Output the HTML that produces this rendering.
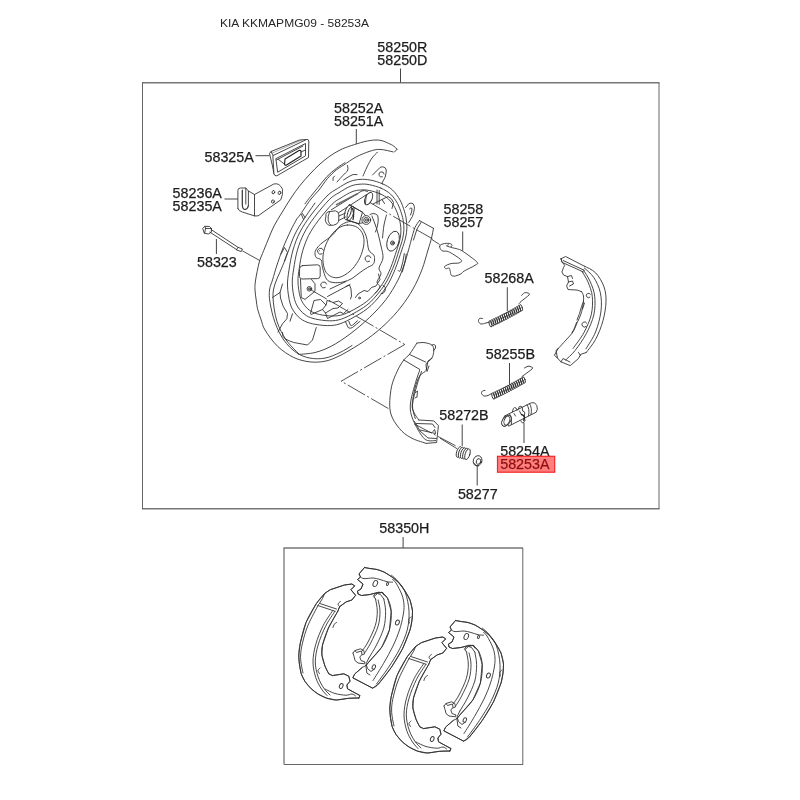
<!DOCTYPE html>
<html><head><meta charset="utf-8">
<style>
html,body{margin:0;padding:0;background:#fff;}
body{width:800px;height:800px;overflow:hidden;position:relative;font-family:"Liberation Sans",sans-serif;}
svg{position:absolute;left:0;top:0;will-change:transform;}
.t{font-family:"Liberation Sans",sans-serif;font-size:14.3px;fill:#1c1c1c;stroke:#1c1c1c;stroke-width:0.25px;}
.title{font-family:"Liberation Sans",sans-serif;font-size:11.8px;fill:#262626;}
.l{stroke:#444;stroke-width:1;fill:none;}
.bh{stroke:#777;stroke-width:1.5;fill:none;}
.bv{stroke:#555;stroke-width:0.9;fill:none;}
.p{stroke:#333;stroke-width:0.9;fill:none;stroke-linecap:round;stroke-linejoin:round;}
.pf{stroke:#333;stroke-width:0.9;fill:#fff;stroke-linecap:round;stroke-linejoin:round;}
.d{stroke:#333;stroke-width:0.85;fill:none;stroke-dasharray:20 2.5 2 2.5;}
</style></head><body>
<svg width="800" height="800" viewBox="0 0 800 800">
<rect width="800" height="800" fill="#fff"/>
<text class="title" x="220" y="27.3" textLength="149" lengthAdjust="spacingAndGlyphs">KIA KKMAPMG09 - 58253A</text>
<g id="boxes">
<path class="bh" d="M142 82.8H659.5M142 508.8H659.5M283.5 548H523"/>
<path class="bv" d="M142.5 82.8V508.8M659 82.8V508.8M522.8 548V764.5M284 764.5H523"/>
<path class="bh" d="M284 548V764.5" style="stroke-width:1.3"/>
<path class="l" d="M400.5 68.5V82.5M403.1 537V548"/>
</g>
<g id="parts">
<path class="p" d="M397 149.2C396.5 148.7 395.2 147.2 394 146.3C392.8 145.4 392 144.9 390 144C388 143.1 384.5 141.4 382 140.7C379.5 140 377.8 139.9 375 140C372.2 140.1 368.1 140.8 365 141.5C361.9 142.2 358.8 143.2 356.3 144C353.8 144.8 352.7 145 350 146C347.3 147 343.3 148.3 340 150C336.7 151.7 333.3 153.7 330 156C326.7 158.3 323.3 161 320 164C316.7 167 313.3 170.4 310 174C306.7 177.6 303.2 181.5 300 185.5C296.8 189.5 294 193.5 291 198C288 202.5 284.8 207.8 282 212.5C279.2 217.2 276.3 221.4 274 226C271.7 230.6 269.9 235.4 268 240C266.1 244.6 264 249.7 262.5 253.5C261 257.3 260.1 258.6 259 263C257.9 267.4 256.3 275.5 255.6 280C254.9 284.5 254.9 286.7 255 290C255.1 293.3 255.8 296.9 256.2 300C256.7 303.1 256.7 305.4 257.5 308.8C258.3 312.1 260 316.5 261.2 320C262.5 323.5 262.3 325.6 265 330C267.7 334.4 272.7 341.7 277.5 346.2C282.3 350.8 288.3 354.9 293.8 357.5C299.2 360.1 304.8 361.3 310 361.9C315.2 362.5 320.5 362.1 325 361.2C329.5 360.4 332.8 358.9 337 357C341.2 355.1 344.8 353.1 350 350C355.2 346.9 362 342.9 368 338.5C374 334.1 380.5 328.8 386 323.5C391.5 318.2 396.5 312.8 401 307C405.5 301.2 409.5 295.2 413 289C416.5 282.8 419.5 276 422 269.5C424.5 263 426.4 255.2 428 250C429.6 244.8 430.6 241.6 431.5 238C432.4 234.4 433.2 229.9 433.5 228.3"/>
<path class="p" d="M397 149.2L394.5 152"/>
<path class="p" d="M393.1 151.9C390.9 151.5 383.9 149.5 380 149.4C376.1 149.3 374 150 370 151.2C366 152.5 360.6 154.6 356.2 156.9C351.9 159.2 347.1 162.8 343.8 165C340.4 167.2 339 167.8 336.2 170C333.5 172.2 330.4 175.2 327.5 178.5C324.6 181.8 321.8 186.6 319 190C316.2 193.4 313.5 195.8 311 199C308.5 202.2 305.8 206.3 304 209C302.2 211.7 301.3 213.2 300 215C298.7 216.8 297.8 217.3 296.2 220C294.7 222.7 292.7 226.3 290.5 231C288.3 235.7 285.2 242.3 283 248C280.8 253.7 278.8 259.7 277 265C275.2 270.3 273.8 275.8 272.5 280C271.2 284.2 269.9 286.2 269.5 290C269.1 293.8 269.1 297.1 270 302.5C270.9 307.9 272.7 316.2 275 322.5C277.3 328.8 280.2 335 283.8 340C287.3 345 291.9 349.5 296.2 352.5C300.6 355.5 305.2 357.2 310 358.1C314.8 359 320 359 325 358.1C330 357.2 335.5 354.6 340 352.5C344.5 350.4 350 346.7 352 345.5"/>
<path class="p" d="M315 203C313.2 205.7 307.3 213.8 304 219C300.7 224.2 297.7 228.5 295 234C292.3 239.5 289.7 247.7 288 252C286.3 256.3 286.3 256.7 285 260C283.7 263.3 281.7 268 280 272C278.3 276 276.2 279.8 275 284C273.8 288.2 272.7 291.3 273 297.5C273.3 303.7 274.7 314.2 276.9 321.2C279.1 328.3 282.6 334.6 286.2 340C289.9 345.4 296.7 351.5 298.8 353.8"/>
<path class="p" d="M345 162.6C343.6 163.6 339.5 166 336.5 168.3C333.5 170.6 330.1 173.3 327 176.5C323.9 179.7 320.7 184.2 318 187.5C315.3 190.8 312.8 193.8 310.6 196.5C308.4 199.2 305.9 202.5 305 203.8"/>
<path class="p" d="M298.8 354.4C301.5 354.1 309.6 353.9 315 352.5C320.4 351.1 325.4 349.3 331.2 346.2C337.1 343.2 343.6 338.8 350 334C356.4 329.2 363.5 323.2 369.5 317.5C375.5 311.8 381.2 305.8 386 299.5C390.8 293.2 395 285.8 398 280C401 274.2 402.2 270 404 265C405.8 260 407.3 254.2 408.5 250C409.7 245.8 410.2 243.8 411.2 240C412.3 236.2 413.6 230.7 415 227.5C416.4 224.3 418.7 221.8 419.4 220.6"/>
<path class="p" d="M419.4 220.6L433.5 228.3"/>
<path class="p" d="M421 222.5L417 229L413.5 240"/>
<path class="p" d="M377.5 152.2C376.6 153.2 373.8 155.5 372 158C370.2 160.5 368.5 164 367 167C365.5 170 363.7 174.5 363 176"/>
<path class="pf" d="M382.5 183.8C378.8 182.1 373.8 180.7 370 180C366.2 179.3 363.3 179.2 360 179.4C356.7 179.7 353.8 180 350 181.5C346.2 183 341.3 186.1 337.5 188.5C333.7 190.9 331.4 191.6 327 196C322.6 200.4 315.5 209 311 215C306.5 221 303 226.2 300 232C297 237.8 294.8 243.7 293 250C291.2 256.3 289.9 264 289 270C288.1 276 287.3 280.5 287.5 286C287.7 291.5 288.8 298.5 290 303C291.2 307.5 292.9 310.2 295 313C297.1 315.8 299.6 318.2 302.5 320C305.4 321.8 308.3 322.8 312.5 323.8C316.7 324.7 322.9 325.6 327.5 325.6C332.1 325.6 335.2 325.4 340 323.8C344.8 322.1 350.8 319 356 316C361.2 313 366 310.2 371 305.5C376 300.8 382 293.5 386 287.5C390 281.5 392.4 275.8 395 269.5C397.6 263.2 400 255.2 401.8 250C403.5 244.8 404.6 241.7 405.5 238C406.4 234.3 406.8 231.2 406.9 228C407 224.8 406.7 221.8 406.2 219C405.8 216.2 405.4 214.4 404.4 211.2C403.4 208.1 402 203.5 400 200C398 196.5 395.4 192.7 392.5 190C389.6 187.3 386.2 185.4 382.5 183.8Z"/>
<path class="p" d="M381.1 188.2C377.6 186.7 372.9 185.4 369.4 184.7C365.9 184 363.2 183.9 360.1 184.2C357 184.4 354.2 184.7 350.7 186.1C347.2 187.5 342.6 190.4 339 192.7C335.4 194.9 333.3 195.5 329.2 199.7C325.1 203.8 318.5 211.8 314.3 217.4C310 223 306.8 227.9 304 233.3C301.2 238.8 299.1 244.2 297.4 250.2C295.7 256.1 294.5 263.3 293.7 268.9C292.8 274.5 292.1 278.7 292.3 283.8C292.4 289 293.5 295.5 294.6 299.7C295.8 303.9 297.3 306.4 299.3 309.1C301.2 311.7 303.6 313.9 306.3 315.6C309 317.3 311.8 318.2 315.7 319.1C319.6 320 325.4 320.8 329.7 320.8C334 320.8 336.9 320.6 341.4 319.1C345.8 317.6 351.5 314.7 356.3 311.9C361.2 309 365.7 306.5 370.4 302.1C375 297.6 380.6 290.8 384.4 285.2C388.1 279.6 390.3 274.2 392.8 268.4C395.3 262.6 397.5 255.1 399.1 250.2C400.7 245.3 401.8 242.4 402.6 238.9C403.4 235.5 403.8 232.6 403.9 229.6C404 226.6 403.7 223.8 403.3 221.2C402.9 218.6 402.6 216.9 401.6 213.9C400.6 211 399.3 206.7 397.5 203.4C395.6 200.1 393.2 196.6 390.5 194.1C387.7 191.5 384.6 189.8 381.1 188.2Z"/>
<path class="p" d="M379.9 193.7C376.7 192.3 372.4 191.1 369.1 190.5C365.9 189.8 363.4 189.7 360.5 190C357.6 190.2 355.1 190.5 351.9 191.8C348.6 193.1 344.4 195.7 341.1 197.8C337.8 199.9 335.8 200.5 332 204.3C328.2 208.1 322.1 215.5 318.2 220.7C314.4 225.8 311.3 230.3 308.7 235.3C306.2 240.3 304.3 245.4 302.7 250.8C301.1 256.3 300 262.9 299.3 268.1C298.5 273.3 297.8 277.2 298 281.9C298.1 286.6 299 292.7 300.1 296.6C301.2 300.4 302.6 302.7 304.4 305.2C306.2 307.6 308.4 309.7 310.9 311.2C313.4 312.8 315.9 313.6 319.5 314.5C323.1 315.3 328.5 316 332.5 316C336.4 316 339.1 315.8 343.2 314.5C347.3 313.1 352.6 310.4 357 307.8C361.5 305.1 365.7 302.8 370 298.7C374.3 294.6 379.5 288.4 382.9 283.2C386.4 278 388.4 273.1 390.7 267.7C392.9 262.3 395 255.4 396.5 250.8C398 246.3 399 243.7 399.7 240.5C400.5 237.3 400.8 234.6 400.9 231.9C401.1 229.1 400.7 226.5 400.4 224.1C400 221.7 399.7 220.2 398.8 217.4C397.9 214.7 396.7 210.8 395 207.7C393.3 204.7 391 201.4 388.5 199.1C386 196.8 383.1 195.1 379.9 193.7Z"/>
<path class="pf" d="M372.5 175L379.4 168.1Q381 166.3 383.1 166.9Q386 167.5 386.25 170Q386.3 174 385 177.5L381.9 183.1"/>
<path class="p" d="M382.4 176.9A2.6 2.6 0 1 1 384.1 174"/>
<path class="pf" d="M405.6 207.5L408.75 203.75Q411 202.3 413.1 203.75Q414.8 206 414.4 208.75Q413.8 212.5 412.5 216.25L408.75 222.5"/>
<path class="p" d="M409.5 209Q411 207 412 208.5Q412 212 410.5 215"/>
<path class="p" d="M333 180.5Q332 177.5 334.5 176M337 182Q344 174 347.5 171Q348.5 168.5 347.5 165.5M343.5 180L349 176.5Q353 173.5 357 174.5"/>
<path class="p" d="M347.5 225C350.8 224.8 354.9 225.8 357.5 227.5C360.1 229.2 362.1 232.1 363.1 235C364.1 237.9 364.3 241.2 363.8 245C363.2 248.8 361.9 253.5 360 257.5C358.1 261.5 355.4 265.6 352.5 268.8C349.6 271.9 345.6 274.8 342.5 276.2C339.4 277.7 336.5 278.1 333.8 277.5C331 276.9 328 275 326.2 272.5C324.5 270 323.5 266 323.1 262.5C322.7 259 322.8 255.2 323.8 251.2C324.7 247.3 326.5 242.5 328.8 238.8C331 235 334.4 231 337.5 228.8C340.6 226.5 344.2 225.2 347.5 225Z"/>
<path class="p" d="M317.5 247.5C318.7 245.9 319.5 245.1 322 243C324.5 240.9 329.3 238 332.5 235C335.7 232 338.1 227.2 341.2 225C344.4 222.8 348.1 221.4 351.2 221.5C354.4 221.6 357.5 223 360 225.5C362.5 228 364.8 232.2 366.2 236.2C367.7 240.3 367.5 246.9 368.8 250C370 253.1 372.8 253.3 373.8 255C374.7 256.7 374.6 258.4 374.5 260C374.4 261.6 374.2 263.2 373 264.5C371.8 265.8 369.7 266.2 367.5 267.5C365.3 268.8 362.6 270.7 360 272.5C357.4 274.3 354.8 276.9 352 278.5C349.2 280.1 346.2 281.3 343 282C339.8 282.7 335.8 283 333 282.5C330.2 282 328.2 281.5 326.5 279C324.8 276.5 323.4 270.7 322.5 267.5C321.6 264.3 322.3 261.7 321.2 260C320.2 258.3 317.3 258.8 316.2 257.5C315.2 256.2 314.8 254.2 315 252.5C315.2 250.8 316.3 249.1 317.5 247.5Z"/>
<path class="p" d="M322.1 253.8A3 3 0 1 1 323.4 250.2"/>
<path class="p" d="M369.6 261.3A3 3 0 1 1 370.9 257.7"/>
<path class="p" d="M325.2 287.6A3 3 0 1 1 326.6 284"/>
<path class="p" d="M319.5 250.7A0.1 0.1 0 1 1 319.5 250.5"/>
<path class="pf" d="M302.5 265.6L317.5 264.8Q320 265 320.2 267.5L320.2 276Q320 278.6 317.5 278.6L302 279Q299.6 278.8 299.5 276.5L299.6 268.5Q300 266 302.5 265.6Z"/>
<path class="p" d="M300.5 279.4L301.25 297.5L305 299.4L315 291.25L315 283.75L311.5 279.5"/>
<circle class="p" cx="309.4" cy="288.8" r="2.3"/>
<circle class="p" cx="309.4" cy="288.8" r="1"/>
<path class="p" d="M331.3 209.8L362 190.8M338.8 212.6L366.3 194.8"/>
<path class="p" d="M336.5 204.6L357.5 193.8" style="stroke-width:1.6;stroke:#666"/>
<ellipse class="pf" cx="368.6" cy="198.6" rx="3.4" ry="6.6" transform="rotate(25 368.6 198.6)"/>
<path class="p" d="M362 190.8Q364.5 189.8 367.5 191.5M366.3 194.8L365.5 203.5"/>
<path class="pf" d="M325.8 216.5Q325 213 328 211.8L335.5 210.8Q338.8 211.5 338.9 215L338.6 221.5Q337.5 224.5 333.5 225.2L329 225.3Q325.8 224 325.3 220.5Z"/>
<path class="p" d="M329.5 212Q327.5 216 328.2 220.5Q329 224 331 225"/>
<path class="pf" d="M349.5 204.8L362.5 212.2L359 223.8L346.5 219.8Z" stroke="none"/>
<ellipse class="pf" cx="347.9" cy="212.4" rx="2.9" ry="7.6" transform="rotate(18 347.9 212.4)"/>
<ellipse class="p" cx="350.6" cy="213.3" rx="2.9" ry="7.4" transform="rotate(18 350.6 213.3)"/>
<path class="p" d="M349.5 204.9L362.5 212.2M346.8 219.9L358 223.6"/>
<path class="p" d="M338.9 216L345.3 213.2M338.7 220.5L345.5 217"/>
<circle class="pf" cx="366.3" cy="220" r="4.4"/>
<circle class="p" cx="366.3" cy="220" r="2.6"/>
<circle class="p" cx="366.3" cy="220" r="1.1"/>
<path class="p" d="M358 223.6L362.8 222.8M362.5 212.2L365.5 215.6"/>
<path class="p" d="M370 214.5Q374 212 377.7 215.5Q379.5 222 375.5 232"/>
<path class="p" d="M352.5 208.5Q354.5 213.5 353 219.5" style="stroke-width:1.3"/>
<path class="p" d="M377 190V204M379.2 190.5V204.5M373 204L382 199.5L388 196.5Q392 198 393.5 202.5L392 208.5M382 199.5L384.5 203.5"/>
<ellipse class="pf" cx="393.1" cy="241.2" rx="5.8" ry="10.3" transform="rotate(18 393.1 241.2)"/>
<circle class="p" cx="392.5" cy="243" r="2"/>
<circle class="p" cx="392.5" cy="243" r="0.8"/>
<path class="p" d="M372 216C372.8 218.3 375.5 225 377 230C378.5 235 380 241.3 381 246C382 250.7 383.3 254.3 383 258C382.7 261.7 379.3 265.3 379 268C378.7 270.7 381.3 271.7 381 274C380.7 276.3 377.2 279.8 377 282C376.8 284.2 380.2 285.2 380 287C379.8 288.8 376.2 292 375.5 293"/>
<path class="p" d="M386.5 215C386.1 216.7 384.7 221.2 384 225C383.3 228.8 382.8 235.8 382.5 238"/>
<path class="p" d="M346 286.5L349.5 285L351 289L351.5 296L350.5 299"/>
<path class="p" d="M355.5 297.5L358 294L364 290.5L368 291.5L371.5 287.5L376 286L380 279.5L378.5 274"/>
<circle class="p" cx="359.5" cy="298" r="0.9"/>
<path class="p" d="M330 289L346 281.5M327.5 296.5L350 284.5"/>
<path class="p" d="M326 305L322.5 309.5L325.5 313L333 308.5L338 308L342.5 303.5L338.5 301L333 302.5L327.5 300.5Z"/>
<path class="p" d="M310.5 313.5L314 300.5L320.5 299.5L326 305M311 314.5L322.5 309.5M325.5 313L327.5 318.5L340 312L343.5 313.5L348 309.5"/>
<path class="p" d="M345.6 322L348.2 327.6Q350 329 352.5 327.5L360 321.3M348.8 321.3L350.4 325.2Q351.3 326 352.5 325.2L357.5 320.8"/>
<path class="p" d="M383 285.5Q386.5 286.5 385 291Q383 295 381 293.5"/>
<path class="p" d="M302.5 213.5L305 217.5M303.5 219.5L301.5 214.5"/>
<path class="p" d="M281 254L284.5 247.5L287.5 252.5L284.5 261"/>
<path class="p" d="M272.5 297.5L280 292.5L282.5 284M280 292.5L280.5 298L283 306L287.5 313.5L286.9 318.75L282.5 323.75L278 332"/>
<path class="p" d="M292.5 313.75L290 321.25"/>
<path class="p" d="M282.5 332.5Q282 337 285 338.75Q289 341 293.75 342.5L307.5 345L312.5 340L316.25 327.5"/>
<path class="p" d="M404.3 253.5Q403.3 262 400.5 270.5Q399 272.5 398 270.5"/>
<path class="p" d="M406.3 254Q405.3 263 402.3 272"/>
<path class="d" d="M370 202.5L403.8 222.5L432.5 238.8"/>
<path class="d" d="M309.5 289L356 316L404.8 344.5"/>
<path class="pf" d="M273.2 155.5L271 151.5L299.5 140L306.5 139.5"/>
<path class="p" d="M271 151.5L269.5 153.5L272.5 166L274 174"/>
<path class="p" d="M271.9 153.2L302 139.9" style="stroke-width:0.55;stroke:#666"/>
<path class="pf" d="M273.2 155.5L306.5 139.5Q308.6 139 308.8 141L308.5 157.5L276.8 175.8Q274.5 176.3 274 174Z"/>
<path class="p" d="M276.2 158.5L305.5 143.5L305.5 155.8L278 172Z"/>
<path class="p" d="M285 159L299 150.5Q301 150 301 151.5L301 156L286.5 165Q284.5 165.6 284.5 164Z" style="stroke-width:1.15;stroke:#222"/>
<path class="p" d="M278.5 159.5L284.6 164.2"/>
<path class="p" d="M301 152L305.3 150"/>
<path class="p" d="M276.4 160L303 146"/>
<path class="p" d="M237.9 208.5V190.3Q238 188 240.5 188H245.8V204.1"/>
<path class="p" d="M237.9 208.5Q238.5 211 242.3 212L254.5 215.9H258L280.8 199.8Q283 195 282.5 189.3Q279.5 182.5 273.8 184L254.5 194.5L248.4 191V205.5"/>
<path class="p" d="M242.3 190V205Q242.5 209.5 245.2 209.5Q247.8 209 248.4 205.5" style="stroke-width:1.2"/>
<path class="p" d="M245.8 188L248.4 191"/>
<path class="p" d="M254.5 194.5L254.5 215.9"/>
<ellipse class="p" cx="273.4" cy="192.2" rx="1.3" ry="1.7" transform="rotate(20 273.4 192.2)"/>
<ellipse class="p" cx="279.5" cy="192.8" rx="1.3" ry="1.7" transform="rotate(20 279.5 192.8)"/>
<ellipse class="p" cx="272.9" cy="201.5" rx="1.3" ry="1.7" transform="rotate(20 272.9 201.5)"/>
<path class="pf" d="M203 228.2L204.8 226.3L209.3 226.4L211.6 228.6L211.2 232.3L208.3 234L204.6 233.2Z"/>
<path class="p" d="M204.8 226.3L205.6 228.4L209.8 228.5L211.6 228.6M205.6 228.4L204.6 233.2"/>
<path class="p" d="M211.2 229.6L238 247.3"/>
<path class="p" d="M210 232.2L236.6 249.6"/>
<path class="p" d="M236.6 249.6L238 247.3L242.4 249L241.4 251.2Z"/>
<path class="d" d="M242.3 250.8L260.6 261"/>
<path class="p" d="M439.6 246.2C439.8 245.1 441.4 244.4 443 243.9C444.6 243.4 447.7 243.2 449.2 243.4C450.7 243.6 451.6 244.3 452 245C452.4 245.7 450.5 246.6 451.4 247.3C452.3 248 455.7 248.3 457.6 249C459.5 249.7 459.5 249.1 462.7 251.2C465.9 253.4 474.7 259.6 476.8 261.9C478.8 264.2 477.1 263.8 475 265.3C472.9 266.8 466.7 269.5 464.4 270.9C462.1 272.3 462.5 272.9 461 273.8C459.5 274.6 457 275.7 455.4 276C453.8 276.3 452.2 276.1 451.4 275.4C450.5 274.6 450.7 272.7 450.3 271.5C449.9 270.3 449.9 268.6 449.2 268.1C448.4 267.6 446.6 269 445.8 268.7C445.1 268.4 443.9 267.2 444.7 266.4C445.5 265.5 448.6 264.2 450.9 263.6C453.2 263 457 263.5 458.8 263C460.5 262.5 461.6 261.6 461.6 260.8C461.6 260 460.5 259.3 458.8 258C457 256.7 452.9 254 450.9 252.9C448.9 251.8 448.4 251.6 446.9 251.2C445.4 250.9 443.1 251.5 441.9 250.7C440.7 249.9 439.4 247.3 439.6 246.2Z"/>
<path class="p" d="M451.4 247.3C450.8 247.2 448.8 246.8 448 246.5C447.2 246.2 446.4 246.1 446.5 245.8C446.6 245.5 448.2 245 448.5 244.8"/>
<path class="d" d="M431.8 239.4L439.6 244.5"/>
<ellipse class="p" cx="490.5" cy="323.8" rx="1.3" ry="3.3" transform="rotate(-15.7 490.5 323.8)"/>
<ellipse class="p" cx="492.4" cy="322.9" rx="1.3" ry="3.3" transform="rotate(-15.7 492.4 322.9)"/>
<ellipse class="p" cx="494.4" cy="321.9" rx="1.3" ry="3.3" transform="rotate(-15.7 494.4 321.9)"/>
<ellipse class="p" cx="496.3" cy="321" rx="1.3" ry="3.3" transform="rotate(-15.7 496.3 321)"/>
<ellipse class="p" cx="498.3" cy="320.1" rx="1.3" ry="3.3" transform="rotate(-15.7 498.3 320.1)"/>
<ellipse class="p" cx="500.2" cy="319.1" rx="1.3" ry="3.3" transform="rotate(-15.7 500.2 319.1)"/>
<ellipse class="p" cx="502.1" cy="318.1" rx="1.3" ry="3.3" transform="rotate(-15.7 502.1 318.1)"/>
<ellipse class="p" cx="504" cy="317.1" rx="1.3" ry="3.3" transform="rotate(-15.7 504 317.1)"/>
<ellipse class="p" cx="505.9" cy="316.2" rx="1.3" ry="3.3" transform="rotate(-15.7 505.9 316.2)"/>
<ellipse class="p" cx="507.8" cy="315.1" rx="1.3" ry="3.3" transform="rotate(-15.7 507.8 315.1)"/>
<ellipse class="p" cx="509.7" cy="314.1" rx="1.3" ry="3.3" transform="rotate(-15.7 509.7 314.1)"/>
<ellipse class="p" cx="511.6" cy="313.1" rx="1.3" ry="3.3" transform="rotate(-15.7 511.6 313.1)"/>
<ellipse class="p" cx="513.5" cy="312.1" rx="1.3" ry="3.3" transform="rotate(-15.7 513.5 312.1)"/>
<ellipse class="p" cx="515.4" cy="311" rx="1.3" ry="3.3" transform="rotate(-15.7 515.4 311)"/>
<ellipse class="p" cx="517.3" cy="309.9" rx="1.3" ry="3.3" transform="rotate(-15.7 517.3 309.9)"/>
<ellipse class="p" cx="519.1" cy="308.9" rx="1.3" ry="3.3" transform="rotate(-15.7 519.1 308.9)"/>
<ellipse class="p" cx="521" cy="307.8" rx="1.3" ry="3.3" transform="rotate(-15.7 521 307.8)"/>
<path class="p" d="M489.5 322C488.9 322.2 487.4 322.7 486 323C484.6 323.3 482.2 324.2 481 324C479.8 323.8 478.8 322.4 478.5 321.5C478.2 320.6 478.8 319 479.5 318.5C480.2 318 482 318.5 482.5 318.5"/>
<path class="p" d="M519 304C519.3 303.6 519.3 303 521 301.5C522.7 300 527.8 296.4 529 295C530.2 293.6 528.8 293.4 528 293C527.2 292.6 525.6 292.4 524.5 292.8C523.4 293.2 522 295.1 521.5 295.5"/>
<ellipse class="p" cx="493.3" cy="396" rx="1.3" ry="3.3" transform="rotate(-15.7 493.3 396)"/>
<ellipse class="p" cx="495.2" cy="395.1" rx="1.3" ry="3.3" transform="rotate(-15.7 495.2 395.1)"/>
<ellipse class="p" cx="497.2" cy="394.1" rx="1.3" ry="3.3" transform="rotate(-15.7 497.2 394.1)"/>
<ellipse class="p" cx="499.1" cy="393.2" rx="1.3" ry="3.3" transform="rotate(-15.7 499.1 393.2)"/>
<ellipse class="p" cx="501.1" cy="392.3" rx="1.3" ry="3.3" transform="rotate(-15.7 501.1 392.3)"/>
<ellipse class="p" cx="503" cy="391.3" rx="1.3" ry="3.3" transform="rotate(-15.7 503 391.3)"/>
<ellipse class="p" cx="504.9" cy="390.3" rx="1.3" ry="3.3" transform="rotate(-15.7 504.9 390.3)"/>
<ellipse class="p" cx="506.8" cy="389.3" rx="1.3" ry="3.3" transform="rotate(-15.7 506.8 389.3)"/>
<ellipse class="p" cx="508.7" cy="388.4" rx="1.3" ry="3.3" transform="rotate(-15.7 508.7 388.4)"/>
<ellipse class="p" cx="510.6" cy="387.3" rx="1.3" ry="3.3" transform="rotate(-15.7 510.6 387.3)"/>
<ellipse class="p" cx="512.5" cy="386.3" rx="1.3" ry="3.3" transform="rotate(-15.7 512.5 386.3)"/>
<ellipse class="p" cx="514.4" cy="385.3" rx="1.3" ry="3.3" transform="rotate(-15.7 514.4 385.3)"/>
<ellipse class="p" cx="516.3" cy="384.3" rx="1.3" ry="3.3" transform="rotate(-15.7 516.3 384.3)"/>
<ellipse class="p" cx="518.2" cy="383.2" rx="1.3" ry="3.3" transform="rotate(-15.7 518.2 383.2)"/>
<ellipse class="p" cx="520.1" cy="382.1" rx="1.3" ry="3.3" transform="rotate(-15.7 520.1 382.1)"/>
<ellipse class="p" cx="521.9" cy="381.1" rx="1.3" ry="3.3" transform="rotate(-15.7 521.9 381.1)"/>
<ellipse class="p" cx="523.8" cy="380" rx="1.3" ry="3.3" transform="rotate(-15.7 523.8 380)"/>
<path class="p" d="M491.5 393.5C490.9 393.8 489.2 395.1 488 395.5C486.8 395.9 485.1 396.3 484 396C482.9 395.7 481.8 394.3 481.5 393.5C481.2 392.7 481.9 391.5 482.5 391C483.1 390.5 484.6 390.6 485 390.5"/>
<path class="p" d="M522 376.5C523.7 375.2 530.4 370.6 532 369C533.6 367.4 532.2 367.5 531.5 367C530.8 366.5 529.2 366 528 366.2C526.8 366.4 525.1 367.7 524.5 368"/>
<ellipse class="pf" cx="459" cy="452" rx="2.3" ry="5.6" transform="rotate(18 459 452)"/>
<ellipse class="pf" cx="461.1" cy="452.6" rx="2.3" ry="5.6" transform="rotate(18 461.1 452.6)"/>
<ellipse class="pf" cx="463.2" cy="453.1" rx="2.3" ry="5.6" transform="rotate(18 463.2 453.1)"/>
<ellipse class="pf" cx="465.4" cy="453.6" rx="2.3" ry="5.6" transform="rotate(18 465.4 453.6)"/>
<ellipse class="pf" cx="467.5" cy="454.2" rx="2.3" ry="5.6" transform="rotate(18 467.5 454.2)"/>
<path class="d" d="M440 438.2L457.2 448.8"/>
<ellipse class="pf" cx="477.6" cy="460.8" rx="4.3" ry="5.2" transform="rotate(20 477.6 460.8)"/>
<ellipse class="p" cx="478.5" cy="461.5" rx="2.2" ry="2.9" transform="rotate(20 478.5 461.5)"/>
<path class="p" d="M474.3 463.5Q475.5 466 478.5 466"/>
<ellipse class="pf" cx="505.8" cy="421" rx="3.4" ry="5.6" transform="rotate(28 505.8 421)"/>
<path class="pf" d="M504.5 416L531.3 402.8Q535 401.5 536.8 405.5Q538.2 409.5 536.2 412.2L509 426Z"/>
<ellipse class="pf" cx="505.8" cy="421" rx="3.4" ry="5.6" transform="rotate(28 505.8 421)"/>
<ellipse class="p" cx="507.6" cy="420.2" rx="3.1" ry="5.2" transform="rotate(28 507.6 420.2)"/>
<path class="p" d="M527 404.8Q530 409 528.5 415.8M529.5 403.6Q532.5 408 531 414.6"/>
<path class="p" d="M509.5 413.8Q512.5 418 511.3 424.6"/>
<path class="p" d="M512.3 412L513.3 408.6Q514.5 406.8 516 408L517 410.3M518.2 409.3L519.3 406.6Q521 405.5 522.3 407.4L522.6 411Q524.5 411 524.8 413L524.2 416.5"/>
<path class="p" d="M521.5 414.5Q524 415 524.6 417.5L523.8 420.2" style="stroke-width:1.5;stroke:#222"/>
<path class="p" d="M520.5 420.8L522.8 423.2L525.4 420"/>
<path class="p" d="M514 413.5L515.5 416M519.5 411L521 414"/>
<path class="p" d="M561 258.8L565.6 256.5L584.4 266.2"/>
<path class="p" d="M563.3 260.6L584.3 270.3"/>
<path class="p" d="M561 258.8L562 262.3L583.5 272"/>
<path class="p" d="M584.4 266.2C586.3 267.3 592.3 269.4 595.6 272.8C598.9 276.2 602.3 282 604 286.9C605.7 291.8 606.2 296.3 606 301.9C605.8 307.5 604.7 314.4 603 320.6C601.3 326.9 598.4 334.1 595.6 339.4C592.8 344.7 587.8 350.3 586.2 352.5"/>
<path class="p" d="M584.4 268.1C586 269.7 591.1 273.4 593.8 277.5C596.4 281.6 599.1 286.9 600.3 292.5C601.5 298.1 601.8 304.4 601 311C600.2 317.6 598.1 325.6 595.6 331.9C593.1 338.2 587.6 345.9 586 348.8"/>
<path class="p" d="M583.4 270C584.5 271.9 588.1 276.9 590 281.2C591.9 285.6 594.1 290.6 594.7 296.2C595.3 301.9 595.2 308.8 593.8 315C592.3 321.2 589.4 327.8 586.2 333.8C583.1 339.7 578.4 346.2 575 350.6C571.6 355 567.2 358.4 565.6 360"/>
<path class="p" d="M582 271.5C583 273.2 586.3 277.8 588 282C589.7 286.2 591.8 291.1 592.3 296.5C592.8 301.9 592.7 308.5 591.3 314.5C589.9 320.5 587 326.8 584 332.5C581 338.2 574.8 345.8 573 348.5"/>
<path class="p" d="M586.25 352.5L580.6 354.4L578.5 358.5L570.3 365.6L561 361.9L557 357.5L554.4 355.3L558 348.75"/>
<path class="p" d="M558 348.8C559.3 347.3 563.5 342.8 566 340C568.5 337.2 571.2 334.7 573 331.9C574.8 329.1 575.7 325.8 577 323C578.3 320.2 579.7 317.5 580.6 315C581.5 312.5 582 310.2 582.5 308C583 305.8 583.2 303.9 583.4 301.9C583.6 299.9 583.8 297.7 583.5 296C583.2 294.3 581.9 292.3 581.6 291.6"/>
<path class="p" d="M581.6 291.6Q578 289.3 570.3 289.7L568 289.5L566.6 285.9L568.5 282L567.5 276.6L563.5 275L561.9 271.9L563.5 267.5L564.7 265.3L562 262L561 258.75"/>
<path class="p" d="M567.5 276.6L571.5 275.5L572.5 278.5M568.5 282L572.5 281L573.5 284L569.5 286"/>
<path class="p" d="M589.9 297.2A2.2 2.2 0 1 1 590.4 294.4"/>
<path class="p" d="M586.2 326.5A2.6 2.6 0 1 1 586.8 323.2"/>
<path class="p" d="M583.5 301.5L581.5 306.5L579.5 313.5L577 320M584.5 303L582.5 309"/>
<path class="p" d="M558 348.75L556 350.5L557.5 358M561 361.9L563 358.5L570 362M578.5 352.5L580.5 355.5"/>
<path class="p" d="M572 332.5C572.4 331.8 573.8 329.7 574.5 328C575.2 326.3 576.2 323.4 576.5 322.5"/>
<path class="p" d="M416.9 343.1C418.1 343 421.5 342.3 424 342.6C426.5 342.9 430.3 343.7 431.9 345C433.5 346.3 433.8 348.4 433.8 350.6C433.8 352.8 433.1 355.9 431.9 358.1C430.6 360.3 427.2 361.7 426.2 363.8C425.3 365.8 427.3 368.3 426.2 370.3C425.2 372.3 421.6 372.9 419.7 375.9C417.8 378.9 416.2 383.2 415 388.1C413.8 393 412.4 400.9 412.2 405C412 409.1 412.9 410 414 412.5C415.1 415 418 418.8 418.8 420"/>
<path class="p" d="M418.8 420L433.8 420.9L438.4 425.6L437.5 434L436.6 442.5L426.2 443.4"/>
<path class="p" d="M426.2 443.4C424.1 442.6 417.2 440.8 413.1 438.8C409 436.7 405.3 434.7 401.9 431.2C398.5 427.8 394.5 422.5 392.5 418.1C390.5 413.7 389.8 410.3 389.7 405C389.6 399.7 390.4 391.9 391.6 386.2C392.9 380.6 395.2 375.6 397.2 371.2C399.2 366.9 401.7 362.8 403.8 360C405.8 357.2 407.2 357.2 409.4 354.4C411.6 351.6 415.6 345 416.9 343.1"/>
<path class="p" d="M403.8 360L419.7 369.4"/>
<path class="p" d="M409.4 354.4L425.5 362"/>
<path class="p" d="M419.7 370.3C418.9 372.6 416.6 378.6 415 384.4C413.4 390.2 410.6 399.1 410.3 405C410 410.9 410.8 414.4 413.1 420C415.5 425.6 420.6 435.3 424.4 438.8C428.1 442.2 433.7 440.3 435.6 440.6"/>
<path class="p" d="M421.5 371.5C420.8 373.8 418.5 379.4 417 385C415.5 390.6 412.8 399.4 412.5 405C412.2 410.6 414.8 416.2 415.3 418.5"/>
<path class="p" d="M431.9 345Q434 343.5 435.5 345.5Q436.5 348 433.75 350.6M431.9 358.1L428 361L426.25 370.3M429 366L427 371.5"/>
<path class="p" d="M415.5 392.5L417.5 391L417 396.5M415 398L417 397"/>
<path class="p" d="M416.5 423.5L432.5 424L435 427.5M420 430L435.5 433.5M433 431.5L434.5 429.5L435.5 432.5"/>
<path class="p" d="M414.5 421.5L420 431L428 438L436.5 438.5"/>
<path class="d" d="M404.8 344.5L341.2 381.2L388.8 408.8"/>
<path class="d" d="M414 423.8L458 447"/>
<path class="pf" d="M358.8 698L348.8 698.3L336.2 700L326.2 698L318 694L311.2 688.8L305 681.5L301.2 673.8L299.4 664L298.8 655L300.3 643.1L306 622.5L316.2 603.8L324.7 593.4L330.3 589.7L344.4 585L351.9 584L354.7 585.9L350.9 589.7L355.6 595.3L351.9 600L346.2 601.9L339.7 606.6L337.8 611.2L328.4 628.1L322.5 645L321.9 655L325 666.2L328.8 673.8L332.5 675.6L343.8 673.8L348.8 676.2L350 681.2L346.9 685L347.5 688.8L360 695.6L358.8 698Z" stroke="none"/>
<path class="p" d="M324.7 593.4C323.3 595.1 319.4 598.9 316.2 603.8C313.1 608.6 308.7 615.9 306 622.5C303.3 629.1 301.5 637.7 300.3 643.1C299.1 648.5 298.9 651.5 298.8 655C298.6 658.5 299 660.9 299.4 664C299.8 667.1 300.3 670.8 301.2 673.8C302.2 676.7 303.3 679 305 681.5C306.7 684 309.1 686.7 311.2 688.8C313.4 690.8 315.5 692.5 318 694C320.5 695.5 323.2 697 326.2 698C329.3 699 332.5 700 336.2 700C340 700 345 698.6 348.8 698.3C352.5 698 357.1 698 358.8 698"/>
<path class="p" d="M324.7 593.4L330.3 589.7L344.4 585L351.9 584L354.7 585.9L350.9 589.7L355.6 595.3L351.9 600L346.2 601.9L339.7 606.6L337.8 611.2"/>
<path class="p" d="M337.8 611.2C336.2 614.1 330.9 622.5 328.4 628.1C325.8 633.7 323.6 640.5 322.5 645C321.4 649.5 321.5 651.5 321.9 655C322.3 658.5 323.9 663.1 325 666.2C326.1 669.4 328.1 672.5 328.8 673.8"/>
<path class="p" d="M328.8 673.8L332.5 675.6L343.8 673.8L348.8 676.2L350 681.2L346.9 685L347.5 688.8L360 695.6L358.8 698"/>
<path class="p" d="M335 611.2C333.4 613.8 328.4 620.6 325.6 626.2C322.8 631.9 319.8 639.1 318.1 645C316.4 650.9 315.3 656.6 315.3 661.9C315.3 667.2 316.7 672.5 318.1 676.9C319.5 681.3 321.8 685.1 323.8 688.1C325.7 691.1 329 693.9 330 695"/>
<path class="p" d="M332.5 611C330.9 613.4 326 619.9 323.2 625.5C320.4 631.1 317.4 638.4 315.7 644.5C314 650.6 313 656.4 313 661.9C313 667.4 314.3 673 315.7 677.5C317.1 682 319.6 686 321.5 689C323.4 692 326.1 694.4 327 695.5"/>
<path class="p" d="M318.5 604.5C316.8 608 310.7 618.9 308 625.3C305.3 631.7 303.7 638 302.5 643C301.3 648 300.8 651.5 300.6 655C300.4 658.5 300.8 661 301.2 664C301.6 667 302.7 671.5 303 673"/>
<path class="p" d="M318 605.6L335 611.2"/>
<path class="p" d="M319.5 603.4L336.5 609"/>
<path class="p" d="M324.7 593.4L322.5 598.5L319.5 603.4"/>
<path class="p" d="M325 689C326.7 689.8 331.5 692.5 335 693.5C338.5 694.5 343.2 695.1 346 695.2C348.8 695.3 350.4 693.9 352 694C353.6 694.1 354.9 695.7 355.5 696"/>
<ellipse class="p" cx="341.2" cy="686" rx="1.7" ry="2.6" transform="rotate(25 341.2 686)"/>
<path class="p" d="M336.5 622.5C336.1 622.8 334.6 623.7 334 624.5C333.4 625.3 333.2 627 333 627.5"/>
<path class="p" d="M339.7 606.6C339.4 606.2 337.9 604.9 338 604C338.1 603.1 340.1 601.9 340.5 601.5"/>
<path class="p" d="M320 668C319.7 668.4 318.1 669.6 318 670.5C317.9 671.4 319.2 673 319.5 673.5"/>
<path class="pf" d="M364.5 567.5L370 568.5L377 569.5L384 572L392 577L399 583L405 591L410 600L412.5 611L412 620L410 630L402.5 648.8L391.2 667.5L378.1 684.4L372.5 688.1L352.8 677.8L354.7 674L362.2 667.5L365.9 665.6L370.6 660L381.9 646.9L389.4 630L391.2 611.2L387.5 598.1L381.9 592.5L374.5 593.3L370 594.5L361.5 595.5L358 594L357.5 591L361 589L363 584L357.5 579.5L360.5 577L359 574L364.5 567.5Z" stroke="none"/>
<path class="p" d="M364.5 567.5C365.4 567.7 367.9 568.2 370 568.5C372.1 568.8 374.7 568.9 377 569.5C379.3 570.1 381.5 570.8 384 572C386.5 573.2 389.5 575.2 392 577C394.5 578.8 396.8 580.7 399 583C401.2 585.3 403.2 588.2 405 591C406.8 593.8 408.8 596.7 410 600C411.2 603.3 412.2 607.7 412.5 611C412.8 614.3 412.4 616.8 412 620C411.6 623.2 411.6 625.2 410 630C408.4 634.8 405.6 642.5 402.5 648.8C399.4 655 395.3 661.6 391.2 667.5C387.2 673.4 381.2 681 378.1 684.4C375 687.8 373.4 687.5 372.5 688.1"/>
<path class="p" d="M372.5 688.1L352.8 677.8L354.7 674L362.2 667.5"/>
<path class="p" d="M364.5 567.5L359 574L360.5 577L357.5 579.5L363 584L361 589L357.5 591L358 594L361.5 595.5L370 594.5L374.5 593.3L381.9 592.5"/>
<path class="p" d="M381.9 592.5C382.8 593.4 385.9 595 387.5 598.1C389.1 601.2 390.9 605.9 391.2 611.2C391.6 616.6 391 624.1 389.4 630C387.8 635.9 385 641.9 381.9 646.9C378.8 651.9 373.3 656.9 370.6 660C367.9 663.1 366.7 664.7 365.9 665.6"/>
<path class="p" d="M365.9 665.6L366.9 673.1L370 675"/>
<path class="p" d="M392.5 579.5C393.1 580.1 394.4 580.4 396 583C397.6 585.6 400.7 591.3 402 595C403.3 598.7 403.8 601.5 404 605C404.2 608.5 403.8 611.8 403 616C402.2 620.2 401.2 625 399.5 630C397.8 635 395.7 640.4 393 646C390.3 651.6 386.8 657.8 383.5 663.5C380.2 669.2 374.8 677.7 373 680.5"/>
<path class="p" d="M391.5 575.3C392.6 576.3 395.7 578.4 398 581.3C400.3 584.2 403.5 587.5 405.3 592.5C407.1 597.5 408.7 605 409 611.2C409.3 617.5 408.8 623.8 407.2 630C405.6 636.2 402.8 642.5 399.7 648.8C396.6 655 392.3 661.6 388.4 667.5C384.5 673.4 378.5 681.2 376.5 684"/>
<path class="p" d="M360.5 577C361.1 577.3 361.9 578.4 364 578.6C366.1 578.8 370.3 577.9 373 578C375.7 578.1 377.7 578.9 380 579.5C382.3 580.1 384.9 581.2 387 581.7C389.1 582.2 391.6 582.1 392.5 582.2"/>
<path class="p" d="M373.5 596L375.5 593.2L378 592.2L383 592.6L384 595"/>
<path class="p" d="M378.1 600C378.4 601.9 380 606.9 380 611.2C380 615.6 379.7 620.9 378.1 626.2C376.5 631.6 372.8 638.7 370.6 643.1C368.4 647.5 365.9 650.9 365 652.5"/>
<path class="p" d="M375.5 599C375.8 601 377.3 606.6 377.3 611C377.3 615.4 376.9 620.3 375.3 625.5C373.8 630.7 370.1 637.8 368 642C365.9 646.2 363.4 649.1 362.5 650.5"/>
<path class="p" d="M383.8 599C384.1 601.1 385.6 606.7 385.6 611.5C385.6 616.3 385.3 622.4 383.8 628C382.2 633.6 379 640 376.5 645C374 650 370 655.9 368.8 658.1"/>
<path class="p" d="M374 596.5L377.5 593.5L380.5 594.5L383.8 599"/>
<path class="p" d="M375.5 599L374 596.5"/>
<path class="p" d="M353 653L355 650.5L360.5 648.8L363.8 650.5L364.5 654L361.5 655L359.8 657L361 660.5L365 662L364.5 663.8L358 663L355 660.5L354 656.5L353 653"/>
<path class="p" d="M355 650.5L356.5 652.5L361.5 651L362 654.5"/>
<path class="p" d="M368.8 658.1L366 664L367.5 668.5L371 671.5L374.5 669"/>
<ellipse class="p" cx="375.3" cy="583.5" rx="2.1" ry="3.2" transform="rotate(25 375.3 583.5)"/>
<ellipse class="p" cx="397.4" cy="622.5" rx="1.8" ry="2.6" transform="rotate(25 397.4 622.5)"/>
<ellipse class="p" cx="373.8" cy="667" rx="1.6" ry="2.3" transform="rotate(25 373.8 667)"/>
<ellipse class="p" cx="387.5" cy="584" rx="1" ry="1.5" transform="rotate(25 387.5 584)"/>
<path class="p" d="M410.8 617C410.5 617.4 409 618.5 408.8 619.5C408.6 620.5 409.4 622.4 409.5 623"/>
<path class="pf" d="M449.8 751L439.8 751.3L427.2 753L417.2 751L409 747L402.2 741.8L396 734.5L392.2 726.8L390.4 717L389.8 708L391.3 696.1L397 675.5L407.2 656.8L415.7 646.4L421.3 642.7L435.4 638L442.9 637L445.7 638.9L441.9 642.7L446.6 648.3L442.9 653L437.2 654.9L430.7 659.6L428.8 664.2L419.4 681.1L413.5 698L412.9 708L416 719.2L419.8 726.8L423.5 728.6L434.8 726.8L439.8 729.2L441 734.2L437.9 738L438.5 741.8L451 748.6L449.8 751Z" stroke="none"/>
<path class="p" d="M415.7 646.4C414.3 648.1 410.4 651.9 407.2 656.8C404.1 661.6 399.7 668.9 397 675.5C394.3 682.1 392.5 690.7 391.3 696.1C390.1 701.5 389.9 704.5 389.8 708C389.6 711.5 390 713.9 390.4 717C390.8 720.1 391.3 723.8 392.2 726.8C393.2 729.7 394.3 732 396 734.5C397.7 737 400.1 739.7 402.2 741.8C404.4 743.8 406.5 745.5 409 747C411.5 748.5 414.2 750 417.2 751C420.3 752 423.5 753 427.2 753C431 753 436 751.6 439.8 751.3C443.5 751 448.1 751 449.8 751"/>
<path class="p" d="M415.7 646.4L421.3 642.7L435.4 638L442.9 637L445.7 638.9L441.9 642.7L446.6 648.3L442.9 653L437.2 654.9L430.7 659.6L428.8 664.2"/>
<path class="p" d="M428.8 664.2C427.2 667.1 421.9 675.5 419.4 681.1C416.8 686.7 414.6 693.5 413.5 698C412.4 702.5 412.5 704.5 412.9 708C413.3 711.5 414.9 716.1 416 719.2C417.1 722.4 419.1 725.5 419.8 726.8"/>
<path class="p" d="M419.8 726.8L423.5 728.6L434.8 726.8L439.8 729.2L441 734.2L437.9 738L438.5 741.8L451 748.6L449.8 751"/>
<path class="p" d="M426 664.2C424.4 666.8 419.4 673.6 416.6 679.2C413.8 684.9 410.8 692.1 409.1 698C407.4 703.9 406.3 709.6 406.3 714.9C406.3 720.2 407.7 725.5 409.1 729.9C410.5 734.3 412.8 738.1 414.8 741.1C416.7 744.1 420 746.9 421 748"/>
<path class="p" d="M423.5 664C421.9 666.4 417 672.9 414.2 678.5C411.4 684.1 408.4 691.4 406.7 697.5C405 703.6 404 709.4 404 714.9C404 720.4 405.3 726 406.7 730.5C408.1 735 410.6 739 412.5 742C414.4 745 417.1 747.4 418 748.5"/>
<path class="p" d="M409.5 657.5C407.8 661 401.7 671.9 399 678.3C396.3 684.7 394.7 691 393.5 696C392.3 701 391.8 704.5 391.6 708C391.4 711.5 391.8 714 392.2 717C392.6 720 393.7 724.5 394 726"/>
<path class="p" d="M409 658.6L426 664.2"/>
<path class="p" d="M410.5 656.4L427.5 662"/>
<path class="p" d="M415.7 646.4L413.5 651.5L410.5 656.4"/>
<path class="p" d="M416 742C417.7 742.8 422.5 745.5 426 746.5C429.5 747.5 434.2 748.1 437 748.2C439.8 748.3 441.4 746.9 443 747C444.6 747.1 445.9 748.7 446.5 749"/>
<ellipse class="p" cx="432.2" cy="739" rx="1.7" ry="2.6" transform="rotate(25 432.2 739)"/>
<path class="p" d="M427.5 675.5C427.1 675.8 425.6 676.7 425 677.5C424.4 678.3 424.2 680 424 680.5"/>
<path class="p" d="M430.7 659.6C430.4 659.2 428.9 657.9 429 657C429.1 656.1 431.1 654.9 431.5 654.5"/>
<path class="p" d="M411 721C410.7 721.4 409.1 722.6 409 723.5C408.9 724.4 410.2 726 410.5 726.5"/>
<path class="pf" d="M455.5 620.5L461 621.5L468 622.5L475 625L483 630L490 636L496 644L501 653L503.5 664L503 673L501 683L493.5 701.8L482.2 720.5L469.1 737.4L463.5 741.1L443.8 730.8L445.7 727L453.2 720.5L456.9 718.6L461.6 713L472.9 699.9L480.4 683L482.2 664.2L478.5 651.1L472.9 645.5L465.5 646.3L461 647.5L452.5 648.5L449 647L448.5 644L452 642L454 637L448.5 632.5L451.5 630L450 627L455.5 620.5Z" stroke="none"/>
<path class="p" d="M455.5 620.5C456.4 620.7 458.9 621.2 461 621.5C463.1 621.8 465.7 621.9 468 622.5C470.3 623.1 472.5 623.8 475 625C477.5 626.2 480.5 628.2 483 630C485.5 631.8 487.8 633.7 490 636C492.2 638.3 494.2 641.2 496 644C497.8 646.8 499.8 649.7 501 653C502.2 656.3 503.2 660.7 503.5 664C503.8 667.3 503.4 669.8 503 673C502.6 676.2 502.6 678.2 501 683C499.4 687.8 496.6 695.5 493.5 701.8C490.4 708 486.3 714.6 482.2 720.5C478.2 726.4 472.2 734 469.1 737.4C466 740.8 464.4 740.5 463.5 741.1"/>
<path class="p" d="M463.5 741.1L443.8 730.8L445.7 727L453.2 720.5"/>
<path class="p" d="M455.5 620.5L450 627L451.5 630L448.5 632.5L454 637L452 642L448.5 644L449 647L452.5 648.5L461 647.5L465.5 646.3L472.9 645.5"/>
<path class="p" d="M472.9 645.5C473.8 646.4 476.9 648 478.5 651.1C480.1 654.2 481.9 658.9 482.2 664.2C482.6 669.6 482 677.1 480.4 683C478.8 688.9 476 694.9 472.9 699.9C469.8 704.9 464.3 709.9 461.6 713C458.9 716.1 457.7 717.7 456.9 718.6"/>
<path class="p" d="M456.9 718.6L457.9 726.1L461 728"/>
<path class="p" d="M483.5 632.5C484.1 633.1 485.4 633.4 487 636C488.6 638.6 491.7 644.3 493 648C494.3 651.7 494.8 654.5 495 658C495.2 661.5 494.8 664.8 494 669C493.2 673.2 492.2 678 490.5 683C488.8 688 486.7 693.4 484 699C481.3 704.6 477.8 710.8 474.5 716.5C471.2 722.2 465.8 730.7 464 733.5"/>
<path class="p" d="M482.5 628.3C483.6 629.3 486.7 631.4 489 634.3C491.3 637.2 494.5 640.5 496.3 645.5C498.1 650.5 499.7 658 500 664.2C500.3 670.5 499.8 676.8 498.2 683C496.6 689.2 493.8 695.5 490.7 701.8C487.6 708 483.3 714.6 479.4 720.5C475.5 726.4 469.5 734.2 467.5 737"/>
<path class="p" d="M451.5 630C452.1 630.3 452.9 631.4 455 631.6C457.1 631.8 461.3 630.9 464 631C466.7 631.1 468.7 631.9 471 632.5C473.3 633.1 475.9 634.2 478 634.7C480.1 635.2 482.6 635.1 483.5 635.2"/>
<path class="p" d="M464.5 649L466.5 646.2L469 645.2L474 645.6L475 648"/>
<path class="p" d="M469.1 653C469.4 654.9 471 659.9 471 664.2C471 668.6 470.7 673.9 469.1 679.2C467.5 684.6 463.8 691.7 461.6 696.1C459.4 700.5 456.9 703.9 456 705.5"/>
<path class="p" d="M466.5 652C466.8 654 468.3 659.6 468.3 664C468.3 668.4 467.9 673.3 466.3 678.5C464.8 683.7 461.1 690.8 459 695C456.9 699.2 454.4 702.1 453.5 703.5"/>
<path class="p" d="M474.8 652C475.1 654.1 476.6 659.7 476.6 664.5C476.6 669.3 476.3 675.4 474.8 681C473.2 686.6 470 693 467.5 698C465 703 461 708.9 459.8 711.1"/>
<path class="p" d="M465 649.5L468.5 646.5L471.5 647.5L474.8 652"/>
<path class="p" d="M466.5 652L465 649.5"/>
<path class="p" d="M444 706L446 703.5L451.5 701.8L454.8 703.5L455.5 707L452.5 708L450.8 710L452 713.5L456 715L455.5 716.8L449 716L446 713.5L445 709.5L444 706"/>
<path class="p" d="M446 703.5L447.5 705.5L452.5 704L453 707.5"/>
<path class="p" d="M459.8 711.1L457 717L458.5 721.5L462 724.5L465.5 722"/>
<ellipse class="p" cx="466.3" cy="636.5" rx="2.1" ry="3.2" transform="rotate(25 466.3 636.5)"/>
<ellipse class="p" cx="488.4" cy="675.5" rx="1.8" ry="2.6" transform="rotate(25 488.4 675.5)"/>
<ellipse class="p" cx="464.8" cy="720" rx="1.6" ry="2.3" transform="rotate(25 464.8 720)"/>
<ellipse class="p" cx="478.5" cy="637" rx="1" ry="1.5" transform="rotate(25 478.5 637)"/>
<path class="p" d="M501.8 670C501.5 670.4 500 671.5 499.8 672.5C499.6 673.5 500.4 675.4 500.5 676"/>
</g>
<g class="t" id="labels">
<text x="377.3" y="51.7">58250R</text>
<text x="377.3" y="64.7">58250D</text>
<text x="334" y="112.9">58252A</text>
<text x="334" y="125.7">58251A</text>
<text x="204.5" y="161.7">58325A</text>
<text x="172.6" y="198.2">58236A</text>
<text x="172.6" y="211.2">58235A</text>
<text x="197" y="266.8">58323</text>
<text x="443.5" y="214">58258</text>
<text x="443.5" y="227">58257</text>
<text x="484.5" y="283.4">58268A</text>
<text x="485.7" y="358.6">58255B</text>
<text x="439.3" y="420.2">58272B</text>
<text x="500.2" y="455.7">58254A</text>
<text x="500.2" y="468.5">58253A</text>
<text x="457.9" y="499">58277</text>
<text x="379.3" y="532.7">58350H</text>
</g>
<rect x="497.5" y="456.3" width="57.2" height="15.9" fill="rgba(255,0,0,0.5)" stroke="#f52525" stroke-width="1.2"/>
<g class="l" id="leaders">
<path d="M356.3 129V144"/>
<path d="M255.5 155.7H269.5"/>
<path d="M224.5 199H238"/>
<path d="M216.4 239V254"/>
<path d="M462.7 231.5V250.7"/>
<path d="M507.3 287.2V311"/>
<path d="M509.5 363V385"/>
<path d="M462.2 424.5V446"/>
<path d="M524 422.5V443"/>
<path d="M477.2 465.5V485.5"/>
</g>
</svg>
</body></html>
